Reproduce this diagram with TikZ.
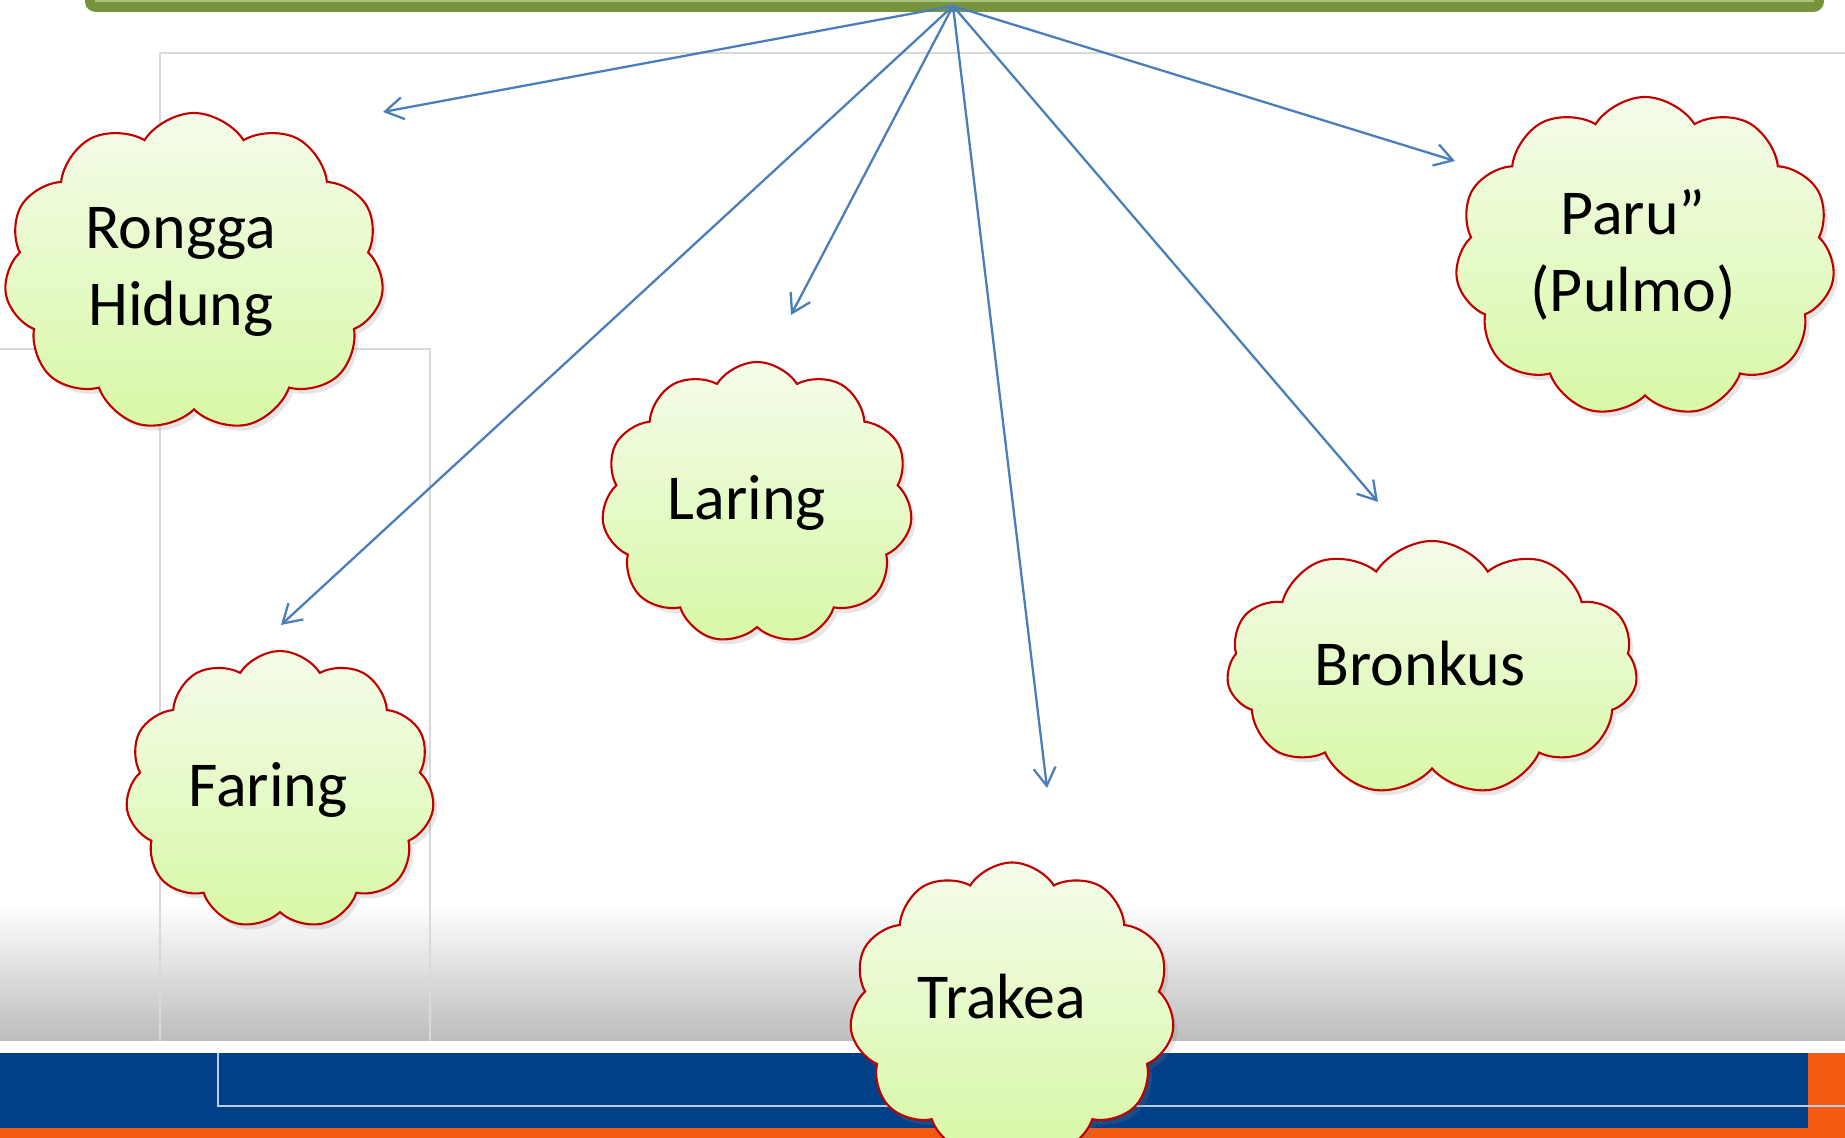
\documentclass[tikz,border=0pt]{standalone}
\usepackage{fontspec}
\setmainfont{Carlito}
\usepackage{xcolor}
\usepackage{tikz}
\usetikzlibrary{arrows.meta,shapes.symbols,shadows}
\definecolor{BarGreen}{HTML}{77933C}
\definecolor{BarLight}{HTML}{A9C47F}
\definecolor{LinkBlue}{HTML}{4A7EBB}
\definecolor{PuffRed}{HTML}{C00000}
\definecolor{PuffTop}{HTML}{F4FCEA}
\definecolor{PuffBottom}{HTML}{D8F8A6}
\definecolor{FrameGray}{HTML}{D9D9D9}
\definecolor{BandBlue}{HTML}{004088}
\definecolor{BandOrange}{HTML}{F55A12}
\definecolor{BandLine}{HTML}{B9CDE5}

\begin{document}
\begin{tikzpicture}[x=1cm,y=1cm,>=Latex,
  puff/.style={cloud,cloud puffs=11,cloud puff arc=115,cloud ignores aspect,draw=PuffRed,line width=0.6pt,
    top color=PuffTop,bottom color=PuffBottom,inner sep=0pt,
    drop shadow={opacity=0.2,shadow xshift=0.04cm,shadow yshift=-0.05cm}},
  word/.style={align=center,inner sep=0pt,font=\fontsize{18.2}{21.8}\selectfont},
  link/.style={LinkBlue,line width=0.65pt,-{Straight Barb[length=1.8mm,width=2.2mm]}}]
  \useasboundingbox (0,0) rectangle (18.45,11.38);
  \begin{scope}
  \clip (0,0) rectangle (18.45,11.38);
  % slide background
  \shade[top color=white,bottom color=gray!52] (0,0.97) rectangle (18.45,2.35);
  \draw[FrameGray,line width=0.6pt] (1.60,0.97) -- (1.60,10.85) -- (18.45,10.85);
  \draw[FrameGray,line width=0.6pt] (0,7.89) -- (4.30,7.89) -- (4.30,0.97);
  \fill[white] (0,0.85) rectangle (18.45,0.97);
  \fill[BandBlue] (0,0.10) rectangle (18.45,0.85);
  \fill[BandOrange] (18.08,0.10) rectangle (18.45,0.85);
  \fill[BandOrange] (0,0) rectangle (18.45,0.10);
  \draw[BandLine,line width=0.8pt] (2.18,0.85) -- (2.18,0.32) -- (18.45,0.32);
  % title bar
  \node[fill=BarGreen,rounded corners=3pt,minimum width=17.39cm,minimum height=0.34cm,inner sep=0pt] (bar) at (9.545,11.43) {};
  \draw[BarLight,line width=0.6pt] (0.95,11.37) -- (18.14,11.37);
  \coordinate (hub) at (9.53,11.32);
  % arrow ends
  \coordinate (toHidung) at (3.83,10.26);
  \coordinate (toFaring) at (2.81,5.13);
  \coordinate (toLaring) at (7.91,8.23);
  \coordinate (toTrakea) at (10.47,3.50);
  \coordinate (toBronkus) at (13.78,6.36);
  \coordinate (toParu) at (14.55,9.77);
  \foreach \tip in {toHidung,toFaring,toLaring,toTrakea,toBronkus,toParu}
    \draw[link] (hub) -- (\tip);
  % clouds
  \node[puff,minimum width=3.80cm,minimum height=3.18cm,
    label={[word,xshift=-1.3mm]center:{Rongga\\Hidung}}] (hidung) at (1.94,8.66) {};
  \node[puff,minimum width=3.80cm,minimum height=3.20cm,
    label={[word,xshift=-1.2mm,yshift=0.2mm]center:{Paru”\\(Pulmo)}}] (paru) at (16.45,8.81) {};
  \node[puff,minimum width=3.11cm,minimum height=2.82cm,
    label={[word,xshift=-1mm]center:Laring}] (laring) at (7.57,6.35) {};
  \node[puff,minimum width=3.09cm,minimum height=2.78cm,
    label={[word,xshift=-1.2mm]center:Faring}] (faring) at (2.80,3.48) {};
  \node[puff,minimum width=4.11cm,minimum height=2.54cm,
    label={[word,xshift=-1.2mm,yshift=0.4mm]center:Bronkus}] (bronkus) at (14.32,4.70) {};
  \node[puff,minimum width=3.25cm,minimum height=2.95cm,
    label={[word,xshift=-1mm,yshift=1.3mm]center:Trakea}] (trakea) at (10.12,1.28) {};
  \end{scope}
\end{tikzpicture}
\end{document}
